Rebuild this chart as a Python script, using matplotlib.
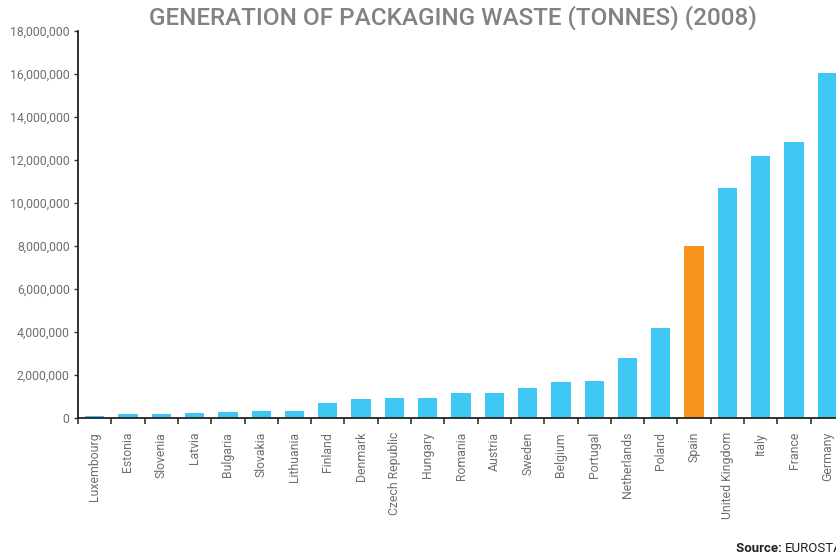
import matplotlib
matplotlib.use('Agg')
import matplotlib.pyplot as plt
from matplotlib.ticker import FuncFormatter, FixedLocator
import numpy as np

countries = ["Luxembourg", "Estonia", "Slovenia", "Latvia", "Bulgaria", "Slovakia",
             "Lithuania", "Finland", "Denmark", "Czech Republic", "Hungary", "Romania",
             "Austria", "Sweden", "Belgium", "Portugal", "Netherlands", "Poland",
             "Spain", "United Kingdom", "Italy", "France", "Germany"]
waste = [90000, 190000, 190000, 230000, 280000, 330000,
         330000, 700000, 890000, 930000, 930000, 1170000,
         1170000, 1400000, 1680000, 1720000, 2800000, 4200000,
         7980000, 10680000, 12170000, 12830000, 16040000]
highlight = "Spain"

blue = "#40C8F4"
orange = "#F7941D"
grey = "#6D6E71"

plt.rcParams['font.family'] = ['Roboto', 'DejaVu Sans']

fig = plt.figure(figsize=(8.37, 5.55), dpi=100)
# axes runs a bit past the right edge, as in the original crop
ax = fig.add_axes([78 / 837, 1 - 418 / 555, 766 / 837, 387 / 555])

x = np.arange(len(countries))
colors = [orange if c == highlight else blue for c in countries]
ax.bar(x, waste, width=0.58, color=colors, zorder=2)

ax.set_xlim(-0.5, len(countries) - 0.5)
ax.set_ylim(0, 18000000)
ax.set_yticks(np.arange(0, 18000001, 2000000))
ax.yaxis.set_major_formatter(FuncFormatter(lambda v, p: f"{int(v):,}"))

ax.set_xticks(x)
ax.set_xticklabels(countries, rotation=90, fontsize=8.8, color=grey)
ax.xaxis.set_minor_locator(FixedLocator(np.arange(-0.5, len(countries), 1)))
ax.tick_params(axis='x', which='major', length=0, pad=10)
ax.tick_params(axis='x', which='minor', length=4, width=1.2, color='#333333', direction='out')
ax.tick_params(axis='y', length=3, width=1, color='#333333', labelsize=8.8, labelcolor=grey, pad=3)

for s in ['top', 'right']:
    ax.spines[s].set_visible(False)
for s in ['left', 'bottom']:
    ax.spines[s].set_color('#222222')
    ax.spines[s].set_linewidth(1.3)

fig.text(453 / 837, 1 - 18 / 555, "GENERATION OF PACKAGING WASTE (TONNES) (2008)",
         ha='center', va='center', fontsize=17.5, fontweight='medium', color='#808285')

t = fig.text(736 / 837, 1 - 548 / 555, "Source: ", ha='left', va='center',
             fontsize=9.5, fontweight='bold', color='#231F20')
fig.canvas.draw()
bb = t.get_window_extent()
fig.text(bb.x1 / fig.bbox.width, 1 - 548 / 555, "EUROSTAT", ha='left', va='center',
         fontsize=9.5, color='#231F20')

fig.savefig("out.png", dpi=100)
